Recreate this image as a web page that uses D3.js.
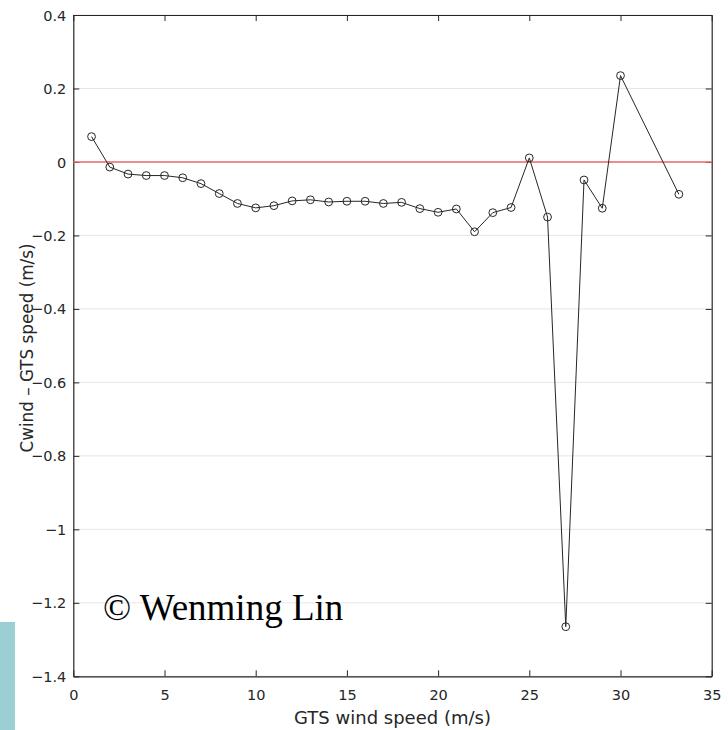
<!DOCTYPE html>
<html>
<head>
<meta charset="utf-8">
<script src="https://cdn.jsdelivr.net/npm/d3@7"></script>
<style>
  body { margin: 0; background: #fff; }
  svg { display: block; }
</style>
</head>
<body>
<svg id="chart" width="728" height="730"></svg>
<script>
const windSpeed = [1,2,3,4,5,6,7,8,9,10,11,12,13,14,15,16,17,18,19,20,21,22,23,24,25,26,27,28,29,30,33.2];
const speedDiff = [0.069,-0.014,-0.033,-0.037,-0.037,-0.043,-0.059,-0.086,-0.113,-0.125,-0.119,-0.106,-0.103,-0.109,-0.107,-0.107,-0.113,-0.110,-0.127,-0.137,-0.128,-0.190,-0.138,-0.124,0.011,-0.150,-1.265,-0.049,-0.126,0.235,-0.088];
const xTicks = [0,5,10,15,20,25,30,35];
const yTicks = [0.4,0.2,0,-0.2,-0.4,-0.6,-0.8,-1,-1.2,-1.4];
const xLabel = "GTS wind speed (m/s)";
const yLabel = "Cwind \u2013 GTS speed (m/s)";
const watermark = "\u00A9 Wenming Lin";

const svg = d3.select("#chart");
const m = {left: 73.3, right: 711.7, top: 15, bottom: 676.3};
const x = d3.scaleLinear().domain([0,35]).range([m.left, m.right]);
const y = d3.scaleLinear().domain([-1.4,0.4]).range([m.bottom, m.top]);
const font = "'DejaVu Sans', sans-serif";
const tickLen = 6;

// teal decoration at bottom-left
svg.append("rect").attr("x",0).attr("y",622).attr("width",15).attr("height",108).attr("fill","#9ccfd4");

// gridlines
svg.append("g").selectAll("line").data(yTicks).join("line")
  .attr("x1", m.left).attr("x2", m.right)
  .attr("y1", d => y(d)).attr("y2", d => y(d))
  .attr("stroke", "#e6e6e6").attr("stroke-width", 1);

// axes (box)
const axColor = "#262626";
const fmt = d => d === 0 ? "0" : d3.format("")(d).replace("-", "\u2212");

const gLeft = svg.append("g").attr("transform", `translate(${m.left},0)`)
  .call(d3.axisLeft(y).tickValues(yTicks).tickSizeInner(-tickLen).tickSizeOuter(0).tickPadding(7).tickFormat(fmt));
const gRight = svg.append("g").attr("transform", `translate(${m.right},0)`)
  .call(d3.axisRight(y).tickValues(yTicks).tickSizeInner(-tickLen).tickSizeOuter(0).tickFormat(""));
const gBottom = svg.append("g").attr("transform", `translate(0,${m.bottom})`)
  .call(d3.axisBottom(x).tickValues(xTicks).tickSizeInner(-tickLen).tickSizeOuter(0).tickPadding(11).tickFormat(fmt));
const gTop = svg.append("g").attr("transform", `translate(0,${m.top})`)
  .call(d3.axisTop(x).tickValues(xTicks).tickSizeInner(-tickLen).tickSizeOuter(0).tickFormat(""));

[gLeft, gRight, gBottom, gTop].forEach(g => {
  g.selectAll("path.domain").attr("stroke", axColor).attr("stroke-width", 1.2);
  g.selectAll(".tick line").attr("stroke", axColor);
  g.selectAll("text").attr("font-family", font).attr("font-size", 14.5).attr("fill", axColor);
});
gBottom.selectAll("text").attr("dy", "0.9em");
gLeft.selectAll("text").attr("dy", "0.35em");

// zero reference line
svg.append("line").attr("x1", m.left).attr("x2", m.right)
  .attr("y1", y(0)).attr("y2", y(0))
  .attr("stroke", "#ee6a6a").attr("stroke-width", 1.4);

// data line
const pts = windSpeed.map((v,i) => [v, speedDiff[i]]);
svg.append("path").datum(pts)
  .attr("fill", "none").attr("stroke", "#262626").attr("stroke-width", 1)
  .attr("d", d3.line().x(d => x(d[0])).y(d => y(d[1])));

svg.append("g").selectAll("circle").data(pts).join("circle")
  .attr("cx", d => x(d[0])).attr("cy", d => y(d[1])).attr("r", 3.9)
  .attr("fill", "none").attr("stroke", "#262626").attr("stroke-width", 1);

// labels
svg.append("text").attr("x", (m.left + m.right)/2).attr("y", 724)
  .attr("text-anchor", "middle").attr("font-family", font).attr("font-size", 18)
  .attr("fill", axColor).text(xLabel);
svg.append("text").attr("transform", `translate(33,348) rotate(-90)`)
  .attr("text-anchor", "middle").attr("font-family", font).attr("font-size", 16.8)
  .attr("fill", axColor).text(yLabel);

// watermark
svg.append("text").attr("x", 103).attr("y", 620)
  .attr("font-family", "'Liberation Serif', 'Times New Roman', serif").attr("font-size", 37)
  .attr("fill", "#000").text(watermark);
</script>
</body>
</html>
